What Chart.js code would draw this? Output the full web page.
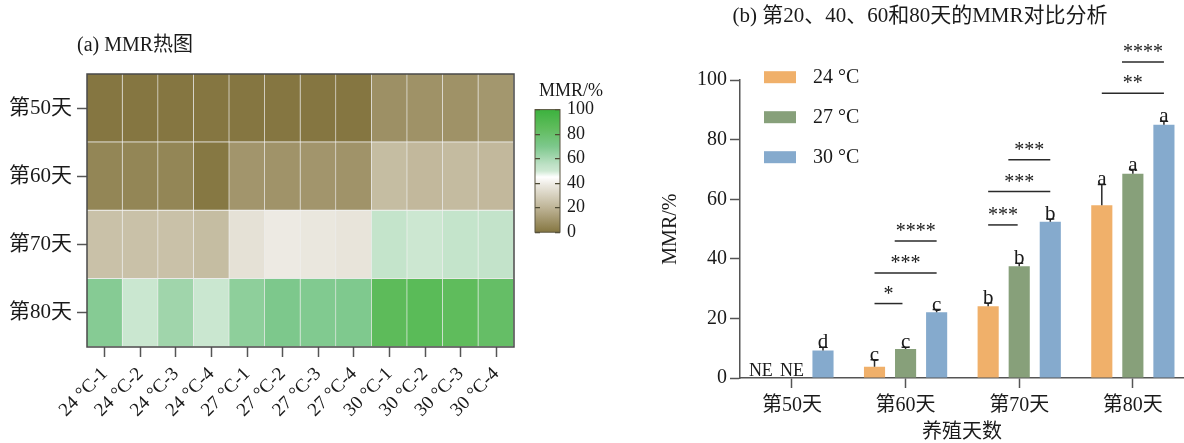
<!DOCTYPE html>
<html>
<head>
<meta charset="utf-8">
<script src="https://cdn.jsdelivr.net/npm/chart.js@4/dist/chart.umd.min.js"></script>
<style>
  body { margin: 0; background: #fff; }
  #wrap { position: relative; width: 1184px; height: 443px; overflow: hidden; }
  canvas { position: absolute; }
</style>
</head>
<body>
<div id="wrap">
  <canvas id="heatChart" width="525" height="443" style="left:0;top:0"></canvas>
  <canvas id="barScale" width="102" height="190" style="left:505px;top:60px"></canvas>
  <canvas id="mmrChart" width="584" height="443" style="left:600px;top:0"></canvas>
</div>
<script>
// (a) heatmap data
const days = ['第50天', '第60天', '第70天', '第80天'];
const samples = ['24 °C-1', '24 °C-2', '24 °C-3', '24 °C-4',
                 '27 °C-1', '27 °C-2', '27 °C-3', '27 °C-4',
                 '30 °C-1', '30 °C-2', '30 °C-3', '30 °C-4'];
const mmrDay50 = [0, 0, 0, 0, 0, 0, 0, 0, 8.5, 9, 9, 10.5];
const mmrDay60 = [5, 5, 5, 0.5, 10, 9.5, 10, 9.5, 23, 21.5, 22.5, 21.5];
const mmrDay70 = [24.5, 24.5, 24.5, 23, 36, 39, 38, 37, 53, 50.5, 53, 53.5];
const mmrDay80 = [68, 51, 62, 51, 66, 70, 69, 69.5, 86, 87, 85, 82];
const heatRows = [mmrDay50, mmrDay60, mmrDay70, mmrDay80];
const scaleTicks = [0, 20, 40, 60, 80, 100];

// (b) bar chart data
const groups = ['第50天', '第60天', '第70天', '第80天'];
const temps = ['24 °C', '27 °C', '30 °C'];
const mean24 = [0, 3.8, 24.1, 58];
const mean27 = [0, 9.7, 37.5, 68.6];
const mean30 = [9.2, 22.1, 52.5, 85];
const err24 = [0, 2.3, 1.1, 7];
const err27 = [0, 0.6, 1.0, 1.4];
const err30 = [1.1, 0.9, 0.9, 1.2];
const letters24 = ['NE', 'c', 'b', 'a'];
const letters27 = ['NE', 'c', 'b', 'a'];
const letters30 = ['d', 'c', 'b', 'a'];
// significance brackets (group, from bar, to bar, height, stars)
const sigGroup = [1, 1, 1, 2, 2, 2, 3, 3];
const sigFrom = [0, 0, 0.65, 0, 0, 0.65, 0, 0.65];
const sigTo = [0.9, 2, 2, 0.95, 2, 2, 2, 2];
const sigY = [25, 35.3, 46, 51.4, 62.6, 73.3, 95.6, 106.1];
const sigText = ['*', '***', '****', '***', '***', '***', '**', '****'];

const means = [mean24, mean27, mean30];
const errs = [err24, err27, err30];
const letters = [letters24, letters27, letters30];
const barColors = ['#f0b06a', '#87a07a', '#85aacd'];

const FONT = "'Liberation Serif', 'Noto Sans CJK SC', serif";
const INK = '#1a1a1a';
const AXIS = '#555';

// colour map of the heatmap (value -> rgb)
const cmapStops = [
  [0, [133, 118, 65]], [20, [190, 180, 150]], [38, [234, 231, 222]],
  [45, [255, 255, 255]], [50, [205, 232, 210]], [55, [190, 225, 198]],
  [70, [125, 200, 140]], [85, [95, 188, 92]], [100, [60, 178, 62]]
];
function mmrColor(v) {
  for (let i = 1; i < cmapStops.length; i++) {
    const [v1, c1] = cmapStops[i];
    if (v <= v1) {
      const [v0, c0] = cmapStops[i - 1];
      const t = (v - v0) / (v1 - v0);
      const c = c0.map((a, k) => Math.round(a + (c1[k] - a) * t));
      return 'rgb(' + c.join(',') + ')';
    }
  }
  return 'rgb(' + cmapStops[cmapStops.length - 1][1].join(',') + ')';
}

Chart.defaults.font.family = FONT;
Chart.defaults.color = INK;

// frame and panel title of the heatmap
const frame = {
  id: 'frame',
  afterDraw(chart) {
    const {ctx, chartArea: a} = chart;
    ctx.save();
    ctx.strokeStyle = '#4a4a4a';
    ctx.lineWidth = 1.5;
    ctx.strokeRect(a.left, a.top, a.right - a.left, a.bottom - a.top);
    ctx.fillStyle = INK;
    ctx.font = '20px ' + FONT;
    ctx.textAlign = 'left';
    ctx.textBaseline = 'middle';
    ctx.fillText('(a) MMR热图', a.left - 10, a.top - 28);
    ctx.restore();
  }
};

new Chart(document.getElementById('heatChart'), {
  type: 'bar',
  data: {
    labels: samples,
    datasets: days.map((d, r) => ({
      label: d,
      data: samples.map(() => 1),
      backgroundColor: heatRows[r].map(mmrColor),
      borderColor: 'rgba(225,225,225,0.6)',
      borderWidth: {top: 0, left: 0, right: 1, bottom: 1},
      borderSkipped: false,
      barPercentage: 1,
      categoryPercentage: 1
    }))
  },
  options: {
    responsive: false,
    animation: false,
    layout: {padding: {left: 0, right: 11, top: 74, bottom: 0}},
    plugins: {
      legend: {display: false},
      tooltip: {enabled: false},
      title: {display: false}
    },
    scales: {
      x: {
        stacked: true,
        offset: true,
        grid: {offset: false, drawOnChartArea: false, tickLength: 10, color: AXIS, tickWidth: 1.5},
        border: {display: false},
        ticks: {minRotation: 45, maxRotation: 45, autoSkip: false, padding: 6, color: INK, font: {size: 19}},
        afterFit: s => { s.height = 96; }
      },
      y: {
        stacked: true,
        reverse: true,
        min: 0,
        max: 4,
        afterBuildTicks: s => { s.ticks = days.map((d, i) => ({value: i + 0.5})); },
        ticks: {callback: v => days[Math.floor(v)], padding: 5, color: INK, font: {size: 21}},
        grid: {drawOnChartArea: false, tickLength: 10, color: AXIS, tickWidth: 1.5},
        border: {display: false},
        afterFit: s => { s.width = 87; }
      }
    }
  },
  plugins: [frame]
});

// colour bar of the heatmap
const gradientBar = {
  id: 'gradientBar',
  beforeDraw(chart) {
    const {ctx, chartArea: a} = chart;
    const g = ctx.createLinearGradient(0, a.bottom, 0, a.top);
    cmapStops.forEach(([v, c]) => g.addColorStop(v / 100, 'rgb(' + c.join(',') + ')'));
    ctx.save();
    ctx.fillStyle = g;
    ctx.fillRect(a.left, a.top, a.right - a.left, a.bottom - a.top);
    ctx.restore();
  },
  afterDraw(chart) {
    const {ctx, chartArea: a} = chart;
    ctx.save();
    ctx.strokeStyle = '#5a5540';
    ctx.lineWidth = 1;
    ctx.strokeRect(a.left, a.top, a.right - a.left, a.bottom - a.top);
    ctx.restore();
  }
};

new Chart(document.getElementById('barScale'), {
  type: 'bar',
  data: {labels: [''], datasets: []},
  options: {
    responsive: false,
    animation: false,
    layout: {padding: {left: 30, right: 0, top: 0, bottom: 17}},
    plugins: {
      legend: {display: false},
      tooltip: {enabled: false},
      title: {display: true, text: 'MMR/%', color: INK, font: {size: 18, weight: 'normal'}, padding: {top: 20, bottom: 8}}
    },
    scales: {
      x: {display: false},
      y: {
        position: 'right',
        min: 0,
        max: 100,
        afterBuildTicks: s => { s.ticks = scaleTicks.map(v => ({value: v})); },
        ticks: {padding: 7, color: INK, font: {size: 18}},
        grid: {drawTicks: false, color: '#4d4a33', lineWidth: 1.2},
        border: {display: false, dash: [5, 15]},
        afterFit: s => { s.width = 47; }
      }
    }
  },
  plugins: [gradientBar]
});

// error bars, letters, significance lines and legend
const barExtras = {
  id: 'barExtras',
  afterDatasetsDraw(chart) {
    const {ctx, scales: {y}} = chart;
    ctx.save();
    ctx.strokeStyle = '#2a2a2a';
    ctx.fillStyle = INK;
    ctx.lineWidth = 1.5;
    ctx.textAlign = 'center';
    ctx.textBaseline = 'alphabetic';
    means.forEach((m, k) => {
      const meta = chart.getDatasetMeta(k);
      m.forEach((v, i) => {
        const bar = meta.data[i];
        if (letters[k][i] === 'NE') {
          ctx.font = '18px ' + FONT;
          ctx.fillText('NE', bar.x, y.getPixelForValue(0) - 2.5);
          return;
        }
        const yTop = y.getPixelForValue(v + errs[k][i]);
        ctx.beginPath();
        ctx.moveTo(bar.x, bar.y);
        ctx.lineTo(bar.x, yTop);
        ctx.moveTo(bar.x - 4, yTop);
        ctx.lineTo(bar.x + 4, yTop);
        ctx.stroke();
        ctx.font = '21px ' + FONT;
        ctx.fillText(letters[k][i], bar.x, yTop + 1);
      });
    });
    ctx.font = '20px ' + FONT;
    sigY.forEach((val, n) => {
      const g = sigGroup[n];
      const c0 = chart.getDatasetMeta(0).data[g].x;
      const step = chart.getDatasetMeta(1).data[g].x - c0;
      const xa = c0 + sigFrom[n] * step;
      const xb = c0 + sigTo[n] * step;
      const yy = y.getPixelForValue(val);
      ctx.beginPath();
      ctx.moveTo(xa, yy);
      ctx.lineTo(xb, yy);
      ctx.stroke();
      ctx.fillText(sigText[n], (xa + xb) / 2, yy - 4);
    });
    ctx.restore();
  },
  afterDraw(chart) {
    const {ctx, chartArea: a} = chart;
    ctx.save();
    ctx.font = '20px ' + FONT;
    ctx.textAlign = 'left';
    ctx.textBaseline = 'middle';
    temps.forEach((t, k) => {
      const cy = a.top - 3 + k * 40;
      ctx.fillStyle = barColors[k];
      ctx.fillRect(a.left + 24, cy - 6, 32, 12);
      ctx.fillStyle = INK;
      ctx.fillText(t, a.left + 73, cy + 1);
    });
    ctx.restore();
  }
};

new Chart(document.getElementById('mmrChart'), {
  type: 'bar',
  data: {
    datasets: temps.map((t, k) => ({
      label: t,
      data: groups.map((g, i) => ({x: i, y: means[k][i]})),
      backgroundColor: barColors[k],
      barPercentage: 0.68,
      categoryPercentage: 0.82
    }))
  },
  options: {
    responsive: false,
    animation: false,
    layout: {padding: {left: 56, right: 0, top: 0, bottom: 0}},
    plugins: {
      legend: {display: false},
      tooltip: {enabled: false},
      title: {
        display: true, text: '(b) 第20、40、60和80天的MMR对比分析', color: INK,
        font: {size: 21, weight: 'normal'}, padding: {top: 4, bottom: 51}
      }
    },
    scales: {
      x: {
        type: 'linear',
        min: -0.457,
        max: 3.45,
        offset: false,
        afterBuildTicks: s => { s.ticks = groups.map((g, i) => ({value: i})); },
        ticks: {callback: v => groups[v], padding: 6, color: INK, font: {size: 20}},
        grid: {offset: false, drawOnChartArea: false, tickLength: 10, color: AXIS, tickWidth: 1.5},
        border: {color: AXIS, width: 1.5},
        title: {display: true, text: '养殖天数', color: INK, font: {size: 20}, padding: {top: 0, bottom: -2}},
        afterFit: s => { s.height = 65; }
      },
      y: {
        min: 0,
        max: 100,
        ticks: {stepSize: 20, padding: 3, color: INK, font: {size: 20}},
        grid: {drawOnChartArea: false, tickLength: 10, color: AXIS, tickWidth: 1.5},
        border: {color: AXIS, width: 1.5},
        title: {display: true, text: 'MMR/%', color: INK, font: {size: 20}, padding: {top: 3, bottom: 0}},
        afterFit: s => { s.width = 84; }
      }
    }
  },
  plugins: [barExtras]
});
</script>
</body>
</html>
